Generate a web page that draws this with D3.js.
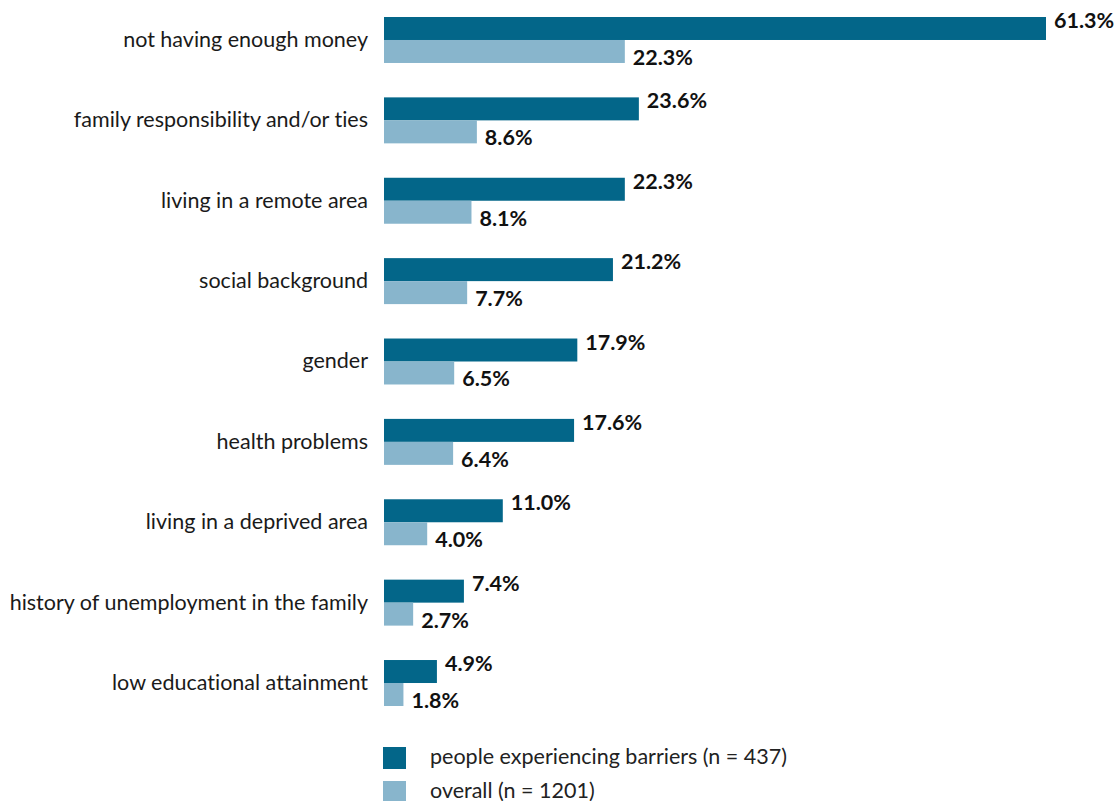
<!DOCTYPE html>
<html>
<head>
<meta charset="utf-8">
<script src="https://cdn.jsdelivr.net/npm/d3@7"></script>
<style>
  html, body { margin: 0; padding: 0; background: #fff; }
  svg { display: block; font-family: "Source Sans Pro", Lato, "Noto Sans", sans-serif; font-variant-ligatures: none; }
</style>
</head>
<body>
<svg id="chart" width="1115" height="801"></svg>
<script>
// Reported barriers, share of respondents (%)
const categories = [
  "not having enough money",
  "family responsibility and/or ties",
  "living in a remote area",
  "social background",
  "gender",
  "health problems",
  "living in a deprived area",
  "history of unemployment in the family",
  "low educational attainment"
];
const barrierValues = [61.3, 23.6, 22.3, 21.2, 17.9, 17.6, 11.0, 7.4, 4.9];
const overallValues = [22.3, 8.6, 8.1, 7.7, 6.5, 6.4, 4.0, 2.7, 1.8];
const seriesNames = ["people experiencing barriers (n = 437)", "overall (n = 1201)"];
const seriesColors = ["#036689", "#88b5cc"];

const rows = categories.map((c, i) => ({ cat: c, values: [barrierValues[i], overallValues[i]] }));

const svg = d3.select("#chart");

const x = d3.scaleLinear().domain([0, 61.3]).range([384, 1046]);
const y = d3.scaleBand().domain(categories).range([17, 706]).paddingInner(0.428).paddingOuter(0);
const ySeries = d3.scaleBand().domain([0, 1]).range([0, y.bandwidth()]);

const fmt = v => v.toFixed(1) + "%";
const fontSize = 21.5;

const groups = svg.selectAll("g.row").data(rows).join("g")
  .attr("class", "row")
  .attr("transform", d => `translate(0,${y(d.cat)})`);

groups.selectAll("rect").data(d => d.values).join("rect")
  .attr("x", x(0))
  .attr("y", (v, j) => ySeries(j))
  .attr("width", v => x(v) - x(0))
  .attr("height", ySeries.bandwidth())
  .attr("fill", (v, j) => seriesColors[j]);

// Value labels: the first series sits high, the second hangs low
groups.selectAll("text.val").data(d => d.values).join("text")
  .attr("class", "val")
  .attr("x", v => x(v) + 8)
  .attr("y", (v, j) => j === 0 ? ySeries(0) + 11 : ySeries(1) + 25)
  .attr("font-size", fontSize)
  .attr("font-weight", 700)
  .attr("fill", "#111")
  .text(fmt);

// Category labels
groups.append("text")
  .attr("x", 368)
  .attr("y", y.bandwidth() / 2 + 7)
  .attr("text-anchor", "end")
  .attr("font-size", fontSize)
  .attr("fill", "#1a1a1a")
  .text(d => d.cat);

// Legend
const legend = svg.append("g").selectAll("g").data(seriesNames).join("g")
  .attr("transform", (d, i) => `translate(383,${747 + i * 34})`);
legend.append("rect").attr("width", 23).attr("height", 22).attr("fill", (d, i) => seriesColors[i]);
legend.append("text")
  .attr("x", 47).attr("y", 17)
  .attr("font-size", fontSize)
  .attr("fill", "#222")
  .text(d => d);
</script>
</body>
</html>
